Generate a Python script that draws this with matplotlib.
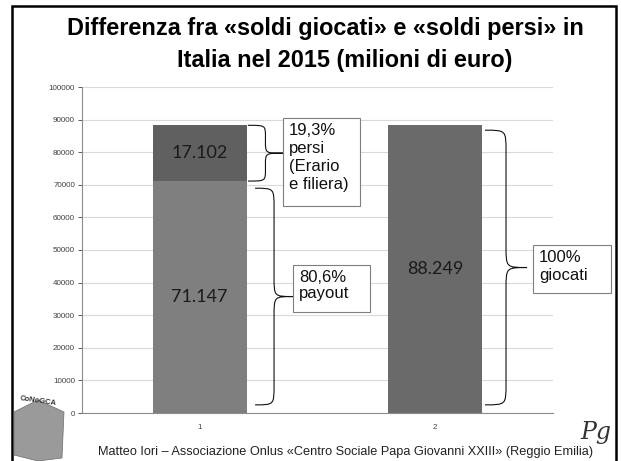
import numpy as np
import matplotlib.pyplot as plt
from matplotlib.path import Path
from matplotlib.patches import PathPatch, Rectangle, Polygon

plt.rcParams['font.family'] = ['Liberation Sans', 'DejaVu Sans']

# data (milioni di euro)
categories = ['1', '2']
payout = [71147, 0]
persi = [17102, 0]
giocati = [0, 88249]
bar_labels = ['71.147', '17.102', '88.249']
box_texts = ['19,3%\npersi\n(Erario\ne filiera)', '80,6%\npayout', '100%\ngiocati']
yticks = list(range(0, 100001, 10000))

W, H = 621, 461
fig = plt.figure(figsize=(W / 100, H / 100), dpi=100)
ax = fig.add_axes([82 / W, 1 - 413 / H, (553 - 82) / W, (413 - 87) / H])

x = np.arange(1, len(categories) + 1)
bw = 0.4
ax.bar(x[0], payout[0], bw, color='#7f7f7f', zorder=2)
ax.bar(x[0], persi[0], bw, bottom=payout[0], color='#606060', zorder=2)
ax.bar(x[1], giocati[1], bw, color='#6a6a6a', zorder=2)

lab_font = dict(family=['Lato', 'DejaVu Sans'], fontsize=13, color='#1a1a1a',
                ha='center', va='center', zorder=3)
ax.text(x[0], payout[0] / 2, bar_labels[0], **lab_font)
ax.text(x[0], payout[0] + persi[0] / 2, bar_labels[1], **lab_font)
ax.text(x[1], giocati[1] / 2, bar_labels[2], **lab_font)

ax.set_xlim(0.5, 2.5)
ax.set_ylim(0, 100000)
ax.set_yticks(yticks)
ax.set_yticklabels([str(v) for v in yticks])
ax.set_xticks(x)
ax.set_xticklabels(categories)
ax.tick_params(axis='y', labelsize=5.8, colors='#404040', length=3, width=0.6, pad=2)
ax.tick_params(axis='x', labelsize=5.8, colors='#404040', length=0, pad=8)
ax.yaxis.grid(True, color='#d9d9d9', linewidth=0.8, zorder=0)
ax.set_axisbelow(True)
for s in ['top', 'right']:
    ax.spines[s].set_visible(False)
for s in ['left', 'bottom']:
    ax.spines[s].set_color('#8c8c8c')
    ax.spines[s].set_linewidth(0.8)


def brace(x0, x1, y0, y1, r):
    xm = (x0 + x1) / 2
    ym = (y0 + y1) / 2
    verts = [(x0, y1),
             (xm, y1), (xm, y1), (xm, y1 - r),
             (xm, ym + r),
             (xm, ym), (xm, ym), (x1, ym),
             (xm, ym), (xm, ym), (xm, ym - r),
             (xm, y0 + r),
             (xm, y0), (xm, y0), (x0, y0)]
    codes = [Path.MOVETO,
             Path.CURVE4, Path.CURVE4, Path.CURVE4,
             Path.LINETO,
             Path.CURVE4, Path.CURVE4, Path.CURVE4,
             Path.CURVE4, Path.CURVE4, Path.CURVE4,
             Path.LINETO,
             Path.CURVE4, Path.CURVE4, Path.CURVE4]
    ax.add_patch(PathPatch(Path(verts, codes), fill=False, lw=0.8,
                           ec='#111111', clip_on=False, zorder=4))


def note(x0, x1, y0, y1, txt, ls):
    ax.add_patch(Rectangle((x0, y0), x1 - x0, y1 - y0, fc='white', ec='#7f7f7f',
                           lw=0.8, clip_on=False, zorder=5))
    ax.text(x0 + 0.025, y1 - 1500, txt, fontsize=12, ha='left', va='top',
            linespacing=ls, color='#111111', zorder=6, clip_on=False)


top1 = payout[0] + persi[0]
brace(1.205, 1.353, payout[0], top1, 3500)
brace(1.235, 1.396, 2500, payout[0] - 2200, 6000)
brace(2.211, 2.39, 2500, giocati[1] - 1500, 6500)

note(1.3535, 1.680, 63500, 90500, box_texts[0], 1.26)
note(1.396, 1.723, 31000, 45400, box_texts[1], 1.1)
note(2.415, 2.746, 36800, 51500, box_texts[2], 1.22)

fig.text(325 / W, 1 - 29 / H, 'Differenza fra «soldi giocati» e «soldi persi» in',
         ha='center', va='center', fontsize=16.9, fontweight='bold')
fig.text(345 / W, 1 - 60 / H, 'Italia nel 2015 (milioni di euro)',
         ha='center', va='center', fontsize=16.9, fontweight='bold')

fig.text(346 / W, 1 - 452 / H,
         'Matteo Iori – Associazione Onlus «Centro Sociale Papa Giovanni XXIII» (Reggio Emilia)',
         ha='center', va='center', fontsize=9.2, color='#222222')

# slide frame
fig.add_artist(Rectangle((12 / W, -0.05), (616 - 12) / W, 1 - 6 / H + 0.05,
                         transform=fig.transFigure, fill=False, ec='black', lw=1.8))

# logos (rough)
cube = Polygon([(14 / W, 1 - 412 / H), (38 / W, 1 - 400 / H), (64 / W, 1 - 412 / H),
                (62 / W, 1 - 458 / H), (38 / W, 1 - 461 / H), (14 / W, 1 - 455 / H)],
               transform=fig.transFigure, fc='#9a9a9a', ec='#6a6a6a', lw=0.5)
fig.add_artist(cube)
fig.text(38 / W, 1 - 401 / H, 'CoNoGCA', ha='center', va='center', fontsize=5.5,
         fontweight='bold', color='#333333', rotation=-8)
fig.text(596 / W, 1 - 432 / H, 'Pg', ha='center', va='center', fontsize=17,
         family=['DejaVu Serif'], style='italic', color='#333333')

fig.savefig('out.png', dpi=100)
